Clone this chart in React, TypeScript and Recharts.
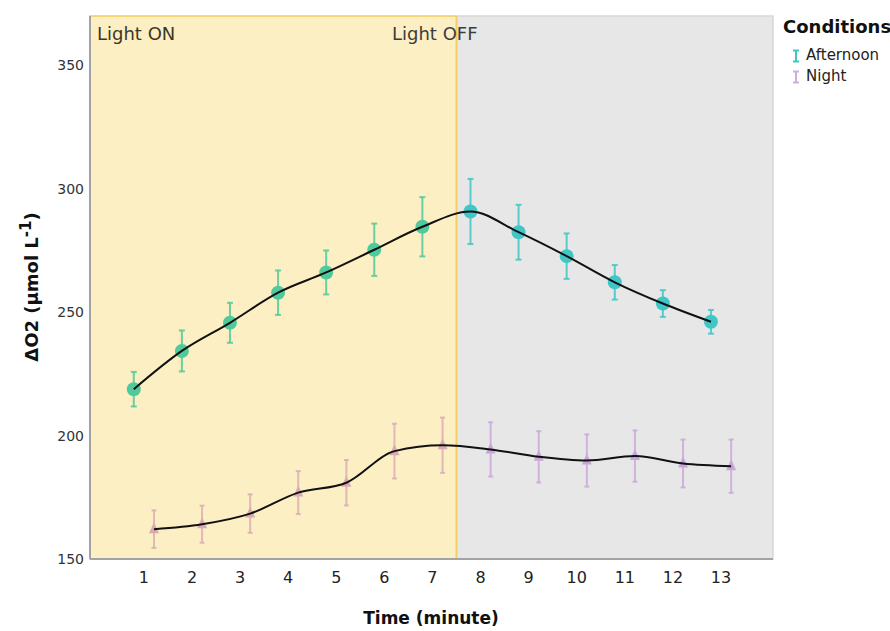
import React from "react";
import {
  ComposedChart, ErrorBar, Line, ReferenceArea, ReferenceLine, Scatter, XAxis, YAxis,
} from "recharts";

// minutes of the run, mean ΔO2 and error bar half-length per condition
const minutes = [1, 2, 3, 4, 5, 6, 7, 8, 9, 10, 11, 12, 13];
const afternoonMean = [218.8, 234.3, 245.7, 257.9, 266.1, 275.3, 284.6, 290.8, 282.4, 272.7, 262.1, 253.5, 246.1];
const afternoonErr = [7.0, 8.3, 8.1, 9.0, 8.9, 10.6, 12.0, 13.2, 11.1, 9.2, 7.0, 5.4, 4.8];
const nightMean = [162.1, 164.1, 168.4, 176.9, 180.9, 193.7, 196.1, 194.4, 191.4, 189.9, 191.7, 188.7, 187.6];
const nightErr = [7.6, 7.5, 7.8, 8.7, 9.2, 11.1, 11.2, 11.0, 10.4, 10.6, 10.4, 9.7, 10.8];
const yTicks = [150, 200, 250, 300, 350];
const lightOffAt = 7.5;
const conditions = ["Afternoon", "Night"];

const X_DOMAIN: [number, number] = [-0.12, 14.08];
const Y_DOMAIN: [number, number] = [150, 370];
const DODGE = 0.21;
const FONT = "'DejaVu Sans', sans-serif";

const COLORS = {
  afternoonOn: "#50c99c",
  afternoonOff: "#40c6c6",
  nightOn: "#d8aab3",
  nightOff: "#c9a6da",
};
const LEGEND_COLORS = ["#40c6c6", "#cdaedc"];

type Pt = { x: number; minute: number; y: number; err: number };

function buildSeries(means: number[], errs: number[], offset: number): Pt[] {
  return minutes.map((m, i) => ({ x: m + offset, minute: m, y: means[i], err: errs[i] }));
}

const afternoon = buildSeries(afternoonMean, afternoonErr, -DODGE);
const night = buildSeries(nightMean, nightErr, DODGE);
const on = (d: Pt[]) => d.filter((p) => p.minute < lightOffAt);
const off = (d: Pt[]) => d.filter((p) => p.minute > lightOffAt);

const circle = (color: string) => (p: any) => <circle cx={p.cx} cy={p.cy} r={7} fill={color} />;
const triangle = (color: string) => (p: any) => (
  <polygon
    points={`${p.cx},${p.cy - 7} ${p.cx - 5},${p.cy + 4} ${p.cx + 5},${p.cy + 4}`}
    fill={color}
  />
);

const yTitle = () => (
  <text
    transform="translate(38, 287) rotate(-90)"
    textAnchor="middle"
    fontFamily={FONT}
    fontWeight="bold"
    fontSize={18}
    fill="#111"
  >
    ΔO2 (μmol L<tspan dy={-7} fontSize={15}>-1</tspan>
    <tspan dy={7}>)</tspan>
  </text>
);

const xTitle = () => (
  <text x={431} y={624} textAnchor="middle" fontFamily={FONT} fontWeight="bold" fontSize={17} fill="#111">
    Time (minute)
  </text>
);

const lightOn = () => (
  <text x={97} y={40} fontFamily={FONT} fontSize={18} fill="#3d3722">
    Light ON
  </text>
);

const lightOff = () => (
  <text x={392} y={40} fontFamily={FONT} fontSize={18} fill="#3d3d3d">
    Light OFF
  </text>
);

function ErrIcon({ color }: { color: string }) {
  return (
    <svg width={8} height={14} style={{ marginRight: 6 }}>
      <line x1={4} y1={1} x2={4} y2={13} stroke={color} strokeWidth={2} />
      <line x1={1} y1={1.5} x2={7} y2={1.5} stroke={color} strokeWidth={2} />
      <line x1={1} y1={12.5} x2={7} y2={12.5} stroke={color} strokeWidth={2} />
    </svg>
  );
}

export default function App() {
  return (
    <div style={{ position: "absolute", left: 0, top: 0, width: 890, height: 631, background: "#fff" }}>
      <ComposedChart width={890} height={631} margin={{ top: 16, right: 117, bottom: 12, left: 0 }}>
        <XAxis
          type="number"
          dataKey="x"
          domain={X_DOMAIN}
          allowDataOverflow
          ticks={minutes}
          interval={0}
          tickLine={false}
          axisLine={{ stroke: "#a3a3a3", strokeWidth: 2 }}
          tick={{ fontSize: 16, fill: "#222", fontFamily: FONT }}
          tickMargin={7}
          height={60}
          label={{ content: xTitle }}
        />
        <YAxis
          type="number"
          dataKey="y"
          domain={Y_DOMAIN}
          allowDataOverflow
          ticks={yTicks}
          interval={0}
          tickLine={false}
          axisLine={{ stroke: "#a3a3a3", strokeWidth: 2 }}
          tick={{ fontSize: 14, fill: "#333", fontFamily: FONT }}
          tickMargin={0}
          width={90}
          label={{ content: yTitle }}
        />
        <ReferenceArea
          x1={X_DOMAIN[0]}
          x2={lightOffAt}
          y1={Y_DOMAIN[0]}
          y2={Y_DOMAIN[1]}
          fill="#fdefc4"
          fillOpacity={1}
          stroke="#f3cd5e"
          strokeWidth={1.5}
          label={{ content: lightOn }}
        />
        <ReferenceArea
          x1={lightOffAt}
          x2={X_DOMAIN[1]}
          y1={Y_DOMAIN[0]}
          y2={Y_DOMAIN[1]}
          fill="#e7e7e7"
          fillOpacity={1}
          stroke="#d8d8d8"
          strokeWidth={1.5}
        />
        <ReferenceLine x={lightOffAt} stroke="#f3cd5e" strokeWidth={1.5} label={{ content: lightOff }} />

        <Scatter data={on(afternoon)} dataKey="y" shape={circle(COLORS.afternoonOn)} isAnimationActive={false}>
          <ErrorBar dataKey="err" direction="y" width={3} stroke={COLORS.afternoonOn} strokeWidth={2} strokeOpacity={0.85} isAnimationActive={false} />
        </Scatter>
        <Scatter data={off(afternoon)} dataKey="y" shape={circle(COLORS.afternoonOff)} isAnimationActive={false}>
          <ErrorBar dataKey="err" direction="y" width={3} stroke={COLORS.afternoonOff} strokeWidth={2} strokeOpacity={0.85} isAnimationActive={false} />
        </Scatter>
        <Scatter data={on(night)} dataKey="y" shape={triangle(COLORS.nightOn)} isAnimationActive={false}>
          <ErrorBar dataKey="err" direction="y" width={2.5} stroke={COLORS.nightOn} strokeWidth={2} strokeOpacity={0.8} isAnimationActive={false} />
        </Scatter>
        <Scatter data={off(night)} dataKey="y" shape={triangle(COLORS.nightOff)} isAnimationActive={false}>
          <ErrorBar dataKey="err" direction="y" width={2.5} stroke={COLORS.nightOff} strokeWidth={2} strokeOpacity={0.8} isAnimationActive={false} />
        </Scatter>

        <Line data={afternoon} dataKey="y" type="monotone" stroke="#111" strokeWidth={2} dot={false} activeDot={false} isAnimationActive={false} zIndex={700} />
        <Line data={night} dataKey="y" type="monotone" stroke="#111" strokeWidth={2} dot={false} activeDot={false} isAnimationActive={false} zIndex={700} />
      </ComposedChart>

      <div style={{ position: "absolute", left: 783, top: 14, fontFamily: FONT, color: "#111" }}>
        <div style={{ fontSize: 18, fontWeight: "bold", lineHeight: "26px", marginBottom: 5 }}>Conditions</div>
        {conditions.map((c, i) => (
          <div key={c} style={{ display: "flex", alignItems: "center", marginLeft: 9, fontSize: 15, lineHeight: "21px", color: "#222" }}>
            <ErrIcon color={LEGEND_COLORS[i]} />
            {c}
          </div>
        ))}
      </div>
    </div>
  );
}
